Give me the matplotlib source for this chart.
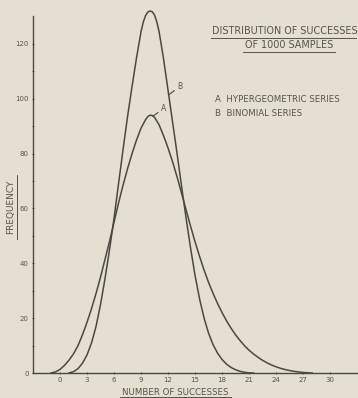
import matplotlib.pyplot as plt
from matplotlib.lines import Line2D

# A: hypergeometric series
a_x = [-1, -0.5, 0, 0.5, 1, 1.5, 2, 2.5, 3, 3.5, 4, 4.5, 5, 5.5, 6, 6.5, 7, 7.5,
       8, 8.5, 9, 9.5, 9.75, 10, 10.25, 10.5, 11, 11.5, 12, 12.5, 13, 13.5, 14,
       14.5, 15, 15.5, 16, 16.5, 17, 17.5, 18, 18.5, 19, 19.5, 20, 20.5, 21,
       21.5, 22, 22.5, 23, 23.5, 24, 24.5, 25, 25.5, 26, 26.5, 27, 27.5, 28]
a_y = [0, 0.4, 1.3, 2.8, 4.7, 7, 10, 14, 18.5, 23.5, 29, 35, 41.5, 48, 55, 62,
       68.5, 74.5, 80, 85, 89.3, 92.4, 93.5, 94, 93.9, 93.2, 90.5, 86.5, 82,
       77, 71.5, 65.5, 59.5, 53.5, 47.8, 42.5, 37.5, 33, 29, 25.3, 22, 19,
       16.3, 13.9, 11.8, 9.9, 8.3, 6.9, 5.7, 4.6, 3.7, 2.9, 2.25, 1.7, 1.25,
       0.9, 0.6, 0.38, 0.2, 0.08, 0]

# B: binomial series
b_x = [1, 1.5, 2, 2.5, 3, 3.5, 4, 4.5, 5, 5.5, 6, 6.5, 7, 7.5, 8, 8.5, 9, 9.25,
       9.5, 9.75, 10, 10.25, 10.5, 10.75, 11, 11.5, 12, 12.5, 13, 13.5, 14,
       14.5, 15, 15.5, 16, 16.5, 17, 17.5, 18, 18.5, 19, 19.5, 20, 20.5, 21,
       21.5]
b_y = [0, 0.5, 1.6, 3.6, 6.6, 11, 17, 25, 34.5, 45, 56.5, 69, 81.5, 93.5, 104.5,
       115, 124.5, 128, 130.3, 131.6, 132, 131.7, 130.5, 128, 124.5, 114.5, 103,
       91.5, 80, 68, 56.5, 45.5, 35.5, 27, 20, 14.5, 10.3, 7.2, 4.9, 3.2, 2,
       1.2, 0.6, 0.25, 0.05, 0]

x_ticks = [0, 3, 6, 9, 12, 15, 18, 21, 24, 27, 30]
y_ticks = [0, 20, 40, 60, 80, 100, 120]

bg = "#e4dfd0"
ink = "#4a4842"
txt = "#55534c"

fig = plt.figure(figsize=(3.58, 3.98), dpi=100, facecolor=bg)
ax = fig.add_axes([0.0922, 0.0628, 0.908, 0.9372], facecolor=bg)

ax.plot(a_x, a_y, color=ink, lw=1.1)
ax.plot(b_x, b_y, color=ink, lw=1.1)

ax.set_xlim(-3, 33.1)
ax.set_ylim(0, 136)
ax.spines["top"].set_visible(False)
ax.spines["right"].set_visible(False)
ax.spines["left"].set_bounds(0, 130)
for s in ["left", "bottom"]:
    ax.spines[s].set_color(ink)
    ax.spines[s].set_linewidth(1.0)

ax.set_xticks(x_ticks)
ax.set_yticks(y_ticks)
ax.set_yticks(range(10, 130, 20), minor=True)
ax.tick_params(axis="both", which="major", length=2, width=0.7, colors=ink,
               labelsize=5, labelcolor=txt, direction="inout", pad=2)
ax.tick_params(axis="y", which="minor", length=2, width=0.6, colors=ink,
               direction="inout")

ax.annotate("A", xy=(10.3, 93.6), xytext=(11.2, 95.5), fontsize=5.5, color=txt,
            arrowprops=dict(arrowstyle="-", color=ink, lw=0.8, shrinkA=0, shrinkB=0))
ax.annotate("B", xy=(12.1, 101.5), xytext=(13.0, 103.5), fontsize=5.5, color=txt,
            arrowprops=dict(arrowstyle="-", color=ink, lw=0.8, shrinkA=0, shrinkB=0))

# title and legend texts
fig.text(0.795, 0.922, "DISTRIBUTION OF SUCCESSES", ha="center", va="center",
         fontsize=6.9, color=txt)
fig.text(0.807, 0.886, "OF 1000 SAMPLES", ha="center", va="center",
         fontsize=6.9, color=txt)
fig.add_artist(Line2D([0.59, 0.995], [0.905, 0.905], color=txt, lw=0.7))
fig.add_artist(Line2D([0.68, 0.935], [0.870, 0.870], color=txt, lw=0.7))

fig.text(0.60, 0.751, "A  HYPERGEOMETRIC SERIES", ha="left", va="center",
         fontsize=6.2, color=txt)
fig.text(0.60, 0.716, "B  BINOMIAL SERIES", ha="left", va="center",
         fontsize=6.2, color=txt)

fig.text(0.489, 0.015, "NUMBER OF SUCCESSES", ha="center", va="center",
         fontsize=6.2, color=txt)
fig.add_artist(Line2D([0.335, 0.645], [0.003, 0.003], color=txt, lw=0.7))
fig.text(0.03, 0.48, "FREQUENCY", ha="center", va="center", rotation=90,
         fontsize=6.5, color=txt)
fig.add_artist(Line2D([0.048, 0.048], [0.40, 0.56], color=txt, lw=0.7))

fig.savefig("out.png", dpi=100, facecolor=bg)
